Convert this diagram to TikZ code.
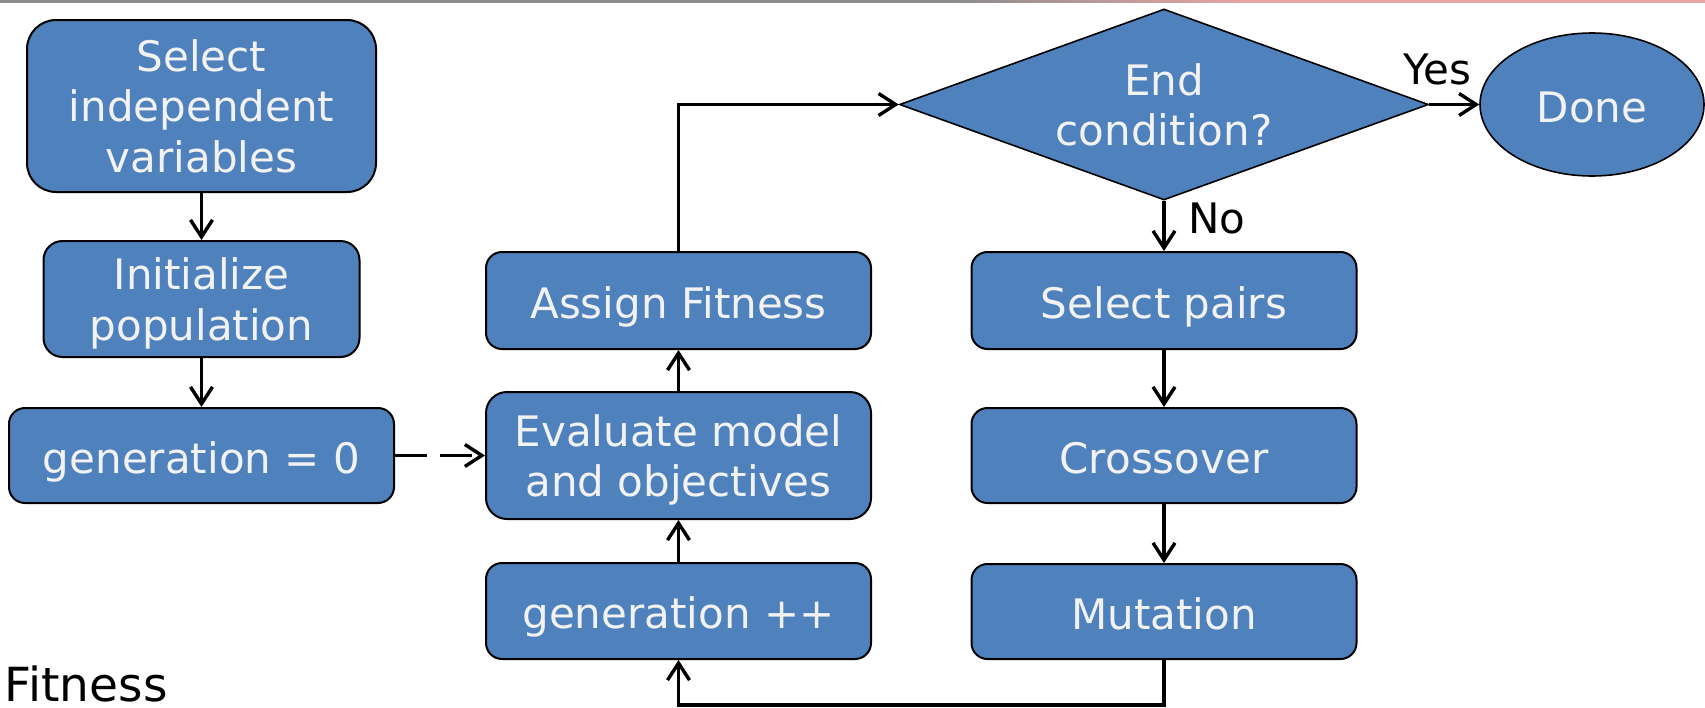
\documentclass[tikz,border=0pt]{standalone}
\usepackage{fontspec}
\setmainfont{DejaVu Sans}
\usetikzlibrary{shapes.geometric,arrows.meta}
\definecolor{boxblue}{HTML}{4F81BD}
\definecolor{boxtext}{HTML}{F2F2F2}
\definecolor{rulegray}{HTML}{8C8C8C}
\definecolor{rulepink}{HTML}{E8A4A4}
\newcommand{\flowfont}{\fontsize{42}{50.5}\selectfont}
\begin{document}
\begin{tikzpicture}[x=1pt,y=-1pt,
  stepbox/.style={draw=black, line width=2pt, fill=boxblue, text=boxtext,
    inner sep=0pt, align=center, font=\flowfont, minimum width=385pt,
    text depth=0pt},
  oneline/.style={text height=35pt},
  flow/.style={line width=3.4pt, -{Straight Barb[length=17pt,width=22pt]}},
  tag/.style={anchor=base west, inner sep=0pt, font=\flowfont},
  ]
\useasboundingbox (0,0) rectangle (1705,707);

% thin rule along the top edge
\fill[rulegray] (0,0) rectangle (950,2.5);
\shade[left color=rulegray, right color=rulepink] (950,0) rectangle (1250,2.5);
\fill[rulepink] (1250,0) rectangle (1705,2.5);

% left column
\node[stepbox, minimum width=349pt, minimum height=172pt, rounded corners=29pt]
  (sel) at (201.5,106) {Select\\independent\\variables};
\node[stepbox, minimum width=316pt, minimum height=116pt, rounded corners=19pt]
  (init) at (201.5,299) {Initialize\\population};
\node[stepbox, oneline, minimum height=95pt, rounded corners=16pt]
  (gen0) at (201.5,455.5) {generation = 0};

% middle column
\node[stepbox, oneline, minimum height=97pt, rounded corners=16pt]
  (assign) at (678.5,300.5) {Assign Fitness};
\node[stepbox, minimum height=127pt, rounded corners=21pt]
  (eval) at (678.5,455.5) {Evaluate model\\and objectives};
\node[stepbox, oneline, minimum height=96pt, rounded corners=16pt]
  (genpp) at (678.5,611) {generation ++};

% right column
\node[stepbox, shape=diamond, line width=1.6pt, aspect=2.77,
  minimum width=529pt, minimum height=191pt]
  (end) at (1164,104.5) {End\\condition?};
\node[stepbox, oneline, shape=ellipse, line width=1.6pt,
  minimum width=224pt, minimum height=143pt]
  (done) at (1592,104.5) {Done};
\node[stepbox, oneline, minimum height=97pt, rounded corners=16pt]
  (pairs) at (1164,300.5) {Select pairs};
\node[stepbox, oneline, minimum height=95pt, rounded corners=16pt]
  (cross) at (1164,455.5) {Crossover};
\node[stepbox, oneline, minimum height=95pt, rounded corners=16pt]
  (mut) at (1164,611.5) {Mutation};

% labels
\node[tag] (yes) at (1403,84) {Yes};
\node[tag] (no) at (1188,233) {No};
\node[tag, font=\fontsize{47}{56}\selectfont] (fit) at (4.5,701) {Fitness};

% connectors
\coordinate (ret) at (0,705);
\draw[flow] (sel) -- (init);
\draw[flow] (init) -- (gen0);
\draw[flow, dash pattern=on 32pt off 13pt] (gen0) -- (eval);
\draw[flow] (eval) -- (assign);
\draw[flow] (genpp) -- (eval);
\draw[flow] (assign.north) |- (end.west);
\draw[flow] (end.east) -- (done.west);
\draw[flow] (end.south) -- (pairs.north);
\draw[flow] (pairs) -- (cross);
\draw[flow] (cross) -- (mut);
\draw[flow] (mut.south) -- (mut.south |- ret) -| (genpp.south);
\end{tikzpicture}
\end{document}
